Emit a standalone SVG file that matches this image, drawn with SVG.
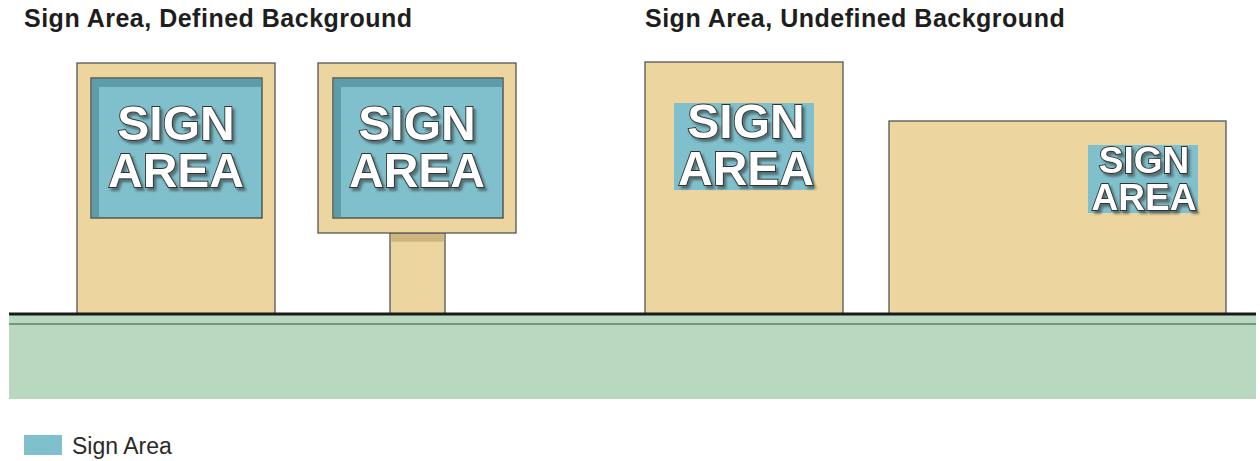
<svg xmlns="http://www.w3.org/2000/svg" width="1260" height="461" viewBox="0 0 1260 461">
<defs>
<style>
.title{font-family:"Liberation Sans",Arial,sans-serif;font-weight:bold;font-size:25px;letter-spacing:0.5px;fill:#1e1e1e}
.tan{fill:#EDD59F;stroke:#555;stroke-width:1.3}
.blue{fill:#7FC0CC}
.panel{fill:#7FC0CC;stroke:#444;stroke-width:1.3}
.shade{fill:#5E9DA8}
.sign{font-family:"Liberation Sans",Arial,sans-serif;font-weight:bold;fill:#fff;stroke:#333;stroke-width:1.8;paint-order:stroke;text-anchor:middle;filter:url(#sh)}
.legend{font-family:"Liberation Sans",Arial,sans-serif;font-size:23px;fill:#2a2a2a}
</style>
<filter id="sh" x="-10%" y="-10%" width="130%" height="140%">
<feDropShadow dx="2.5" dy="3" stdDeviation="1.2" flood-color="#333" flood-opacity="0.55"/>
</filter>
</defs>
<text class="title" x="24" y="27">Sign Area, Defined Background</text>
<text class="title" x="645" y="27">Sign Area, Undefined Background</text>

<g id="ground">
<rect x="9" y="315" width="1247" height="84" fill="#B9D8C0"/>
<line x1="9" y1="324" x2="1256" y2="324" stroke="#5E7E66" stroke-width="1.5"/>
</g>

<g id="sign1">
<rect class="tan" x="77" y="63" width="198" height="251"/>
<rect class="panel" x="91" y="78" width="171" height="140"/>
<path class="shade" d="M91.7,78.7 H261.3 V87 H99 V217.3 H91.7 Z"/>
<text class="sign" font-size="48"><tspan x="176" y="140">SIGN</tspan><tspan x="176" y="187">AREA</tspan></text>
</g>

<g id="sign2">
<rect class="tan" x="390" y="233" width="55" height="81"/>
<rect x="390.7" y="233.7" width="53.6" height="8" fill="#CDB57F"/>
<rect class="tan" x="318" y="63" width="198" height="170"/>
<rect class="panel" x="333" y="78" width="170" height="140"/>
<path class="shade" d="M333.7,78.7 H502.3 V87 H341 V217.3 H333.7 Z"/>
<text class="sign" font-size="48"><tspan x="417" y="140">SIGN</tspan><tspan x="417" y="187">AREA</tspan></text>
</g>

<g id="sign3">
<rect class="tan" x="645" y="62" width="198" height="252"/>
<rect class="blue" x="674" y="103" width="140" height="87"/>
<text class="sign" font-size="48"><tspan x="746" y="138">SIGN</tspan><tspan x="746" y="185">AREA</tspan></text>
</g>

<g id="sign4">
<rect class="tan" x="889" y="121" width="337" height="193"/>
<rect class="blue" x="1088" y="145" width="110" height="68"/>
<text class="sign" font-size="37"><tspan x="1144" y="173">SIGN</tspan><tspan x="1144" y="210">AREA</tspan></text>
</g>

<g id="groundline">
<line x1="9" y1="314" x2="1256" y2="314" stroke="#1a1a1a" stroke-width="3"/>
</g>

<g id="legend">
<rect class="blue" x="24" y="435" width="38" height="20"/>
<text class="legend" x="72" y="454">Sign Area</text>
</g>
</svg>
